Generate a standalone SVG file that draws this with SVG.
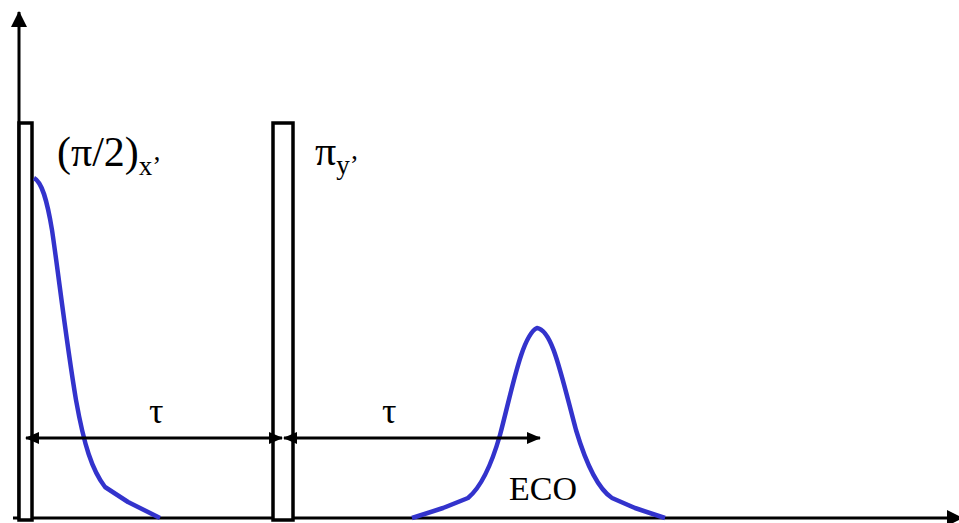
<svg xmlns="http://www.w3.org/2000/svg" width="959" height="523" viewBox="0 0 959 523">
<style>
.ax{stroke:#000;stroke-width:3;fill:none}
.pulse{stroke:#000;stroke-width:3.5;fill:#fff}
.sig{stroke:#3333CC;stroke-width:4.5;fill:none;stroke-linejoin:round}
.t{font-family:"Liberation Serif","Times New Roman",serif;fill:#000}
</style>
<defs>
<marker id="ah" markerWidth="14" markerHeight="14" refX="13" refY="7" orient="auto-start-reverse" markerUnits="userSpaceOnUse" viewBox="0 0 14 14">
<path d="M0,1 L14,7 L0,13 Z" fill="#000"/>
</marker>
<marker id="ahBig" markerWidth="16" markerHeight="16" refX="15" refY="8" orient="auto" markerUnits="userSpaceOnUse" viewBox="0 0 16 16">
<path d="M0,0 L16,8 L0,16 Z" fill="#000"/>
</marker>
</defs>
<rect width="959" height="523" fill="#fff"/>
<g id="axes">
<line class="ax" x1="19" y1="520" x2="19" y2="12" marker-end="url(#ahBig)"/>
<line class="ax" x1="13" y1="518" x2="962" y2="518" marker-end="url(#ahBig)"/>
</g>
<g id="pulse1"><rect class="pulse" x="19" y="123" width="13" height="397"/></g>
<g id="pulse2"><rect class="pulse" x="273" y="123" width="20" height="397"/></g>
<g id="signals">
<path class="sig" d="M34,178 C42,182 47,200 52,230 C58,270 66,340 76,400 C84,445 92,470 105,487 L128,502 L160,518"/>
<path class="sig" d="M412,518 L443,508 L468,498 C480,488 490,470 500,435 C512,390 522,335 537,328 C552,330 560,370 576,430 C588,470 600,490 612,498 L635,508 L665,518"/>
</g>
<g id="connectors">
<line x1="26" y1="438" x2="282" y2="438" stroke="#000" stroke-width="3" marker-start="url(#ah)" marker-end="url(#ah)"/>
<line x1="284" y1="438" x2="540" y2="438" stroke="#000" stroke-width="3" marker-start="url(#ah)" marker-end="url(#ah)"/>
</g>
<g id="labels">
<text class="t" x="57" y="166" font-size="42">(π/2)<tspan font-size="27" dy="9">x’</tspan></text>
<text class="t" x="315" y="165" font-size="42">π<tspan font-size="27" dy="9">y’</tspan></text>
<text class="t" x="149" y="423" font-size="36">τ</text>
<text class="t" x="382" y="423" font-size="36">τ</text>
<text class="t" x="509" y="500" font-size="34">ECO</text>
</g>
</svg>
